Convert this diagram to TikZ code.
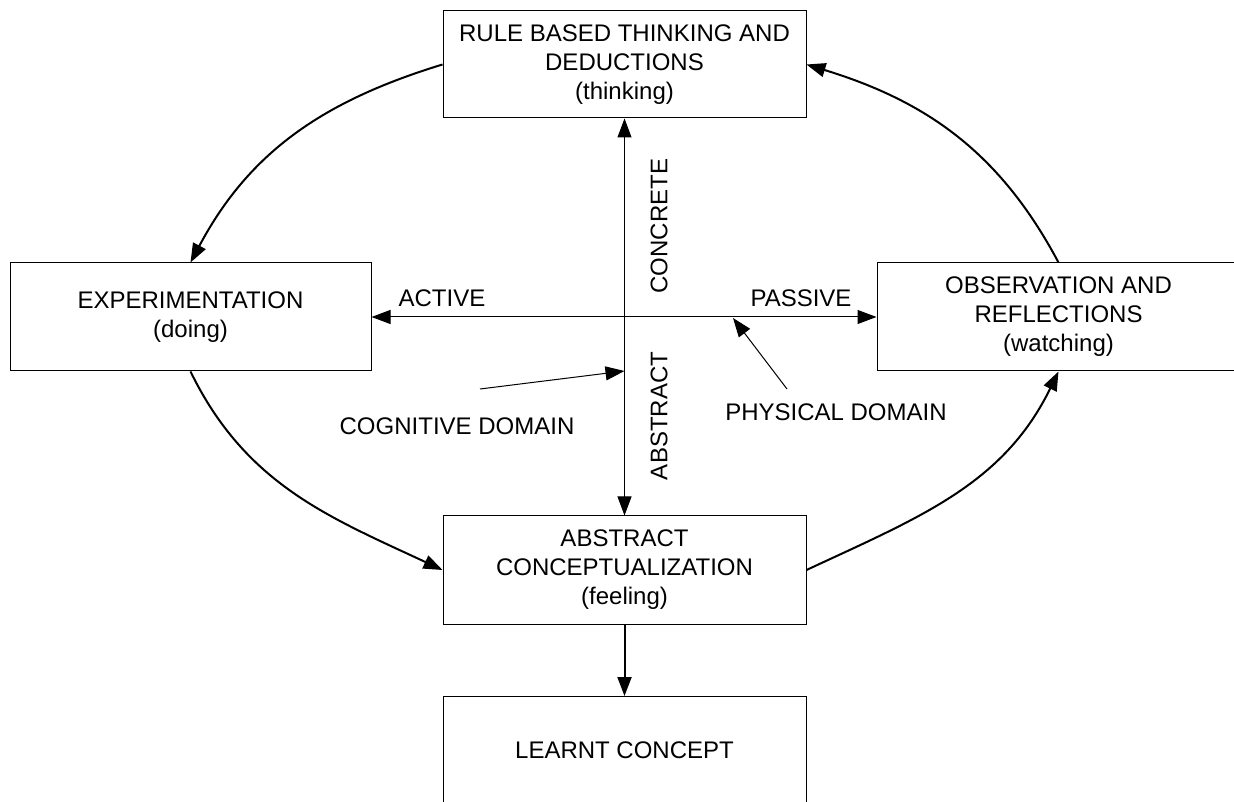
\documentclass[tikz,border=0pt]{standalone}
\usepackage{fontspec}
\setmainfont{Liberation Sans}
\usetikzlibrary{arrows.meta}
\begin{document}
\begin{tikzpicture}[x=1pt,y=1pt,
  txt/.style={font=\fontsize{24}{29}\selectfont},
  box/.style={draw, line width=1pt, minimum width=363pt, minimum height=107pt, inner sep=0pt, align=center, txt},
  lbl/.style={inner sep=0pt, txt},
  tip/.style={-{Triangle[length=19pt,width=14pt]}},
  dtip/.style={{Triangle[length=19pt,width=14pt]}-{Triangle[length=19pt,width=14pt]}},
  ln/.style={line width=1pt},
  curve/.style={line width=2pt, tip}]
\useasboundingbox (0,0) rectangle (1234,801);
\clip (0,0) rectangle (1234,801);
\node[box] (top) at (624.5,736.5) {RULE BASED THINKING AND\\DEDUCTIONS\\(thinking)};
\node[box, minimum width=361pt, minimum height=108pt] (exp) at (190.5,484) {EXPERIMENTATION\\(doing)};
\node[box, minimum height=108pt] (obs) at (1058.5,484) {OBSERVATION AND\\REFLECTIONS\\(watching)};
\node[box, minimum height=108pt] (abs) at (624.5,231) {ABSTRACT\\CONCEPTUALIZATION\\(feeling)};
\node[box] (learn) at (624.5,51) {LEARNT CONCEPT};

\draw[ln, dtip] (exp.east) -- (obs.west);
\draw[ln, dtip] (abs.north) -- (top.south);

\coordinate (cogtail) at (480,412);
\coordinate (cogtip) at (624.5,430);
\draw[ln, tip] (cogtail) -- (cogtip);
\coordinate (phytail) at (787,412);
\coordinate (phytip) at (733,483);
\draw[ln, tip] (phytail) -- (phytip);

\node[lbl] (active) at (442,503) {ACTIVE};
\node[lbl] (passive) at (801,503) {PASSIVE};
\node[lbl, rotate=90] (concrete) at (659,575) {CONCRETE};
\node[lbl, rotate=90] (abstract) at (659,385) {ABSTRACT};
\node[lbl] (cog) at (457,375) {COGNITIVE DOMAIN};
\node[lbl] (phy) at (836,389) {PHYSICAL DOMAIN};

\draw[curve] (top.west) to[out=197,in=62] (exp.north);
\draw[curve] (exp.south) to[out=-64,in=155] (abs.west);
\draw[curve] (abs.east) to[out=25,in=244] (obs.south);
\draw[curve] (obs.north) to[out=118,in=-17] (top.east);
\draw[line width=2pt, tip] (abs.south) -- (learn.north);
\end{tikzpicture}
\end{document}
